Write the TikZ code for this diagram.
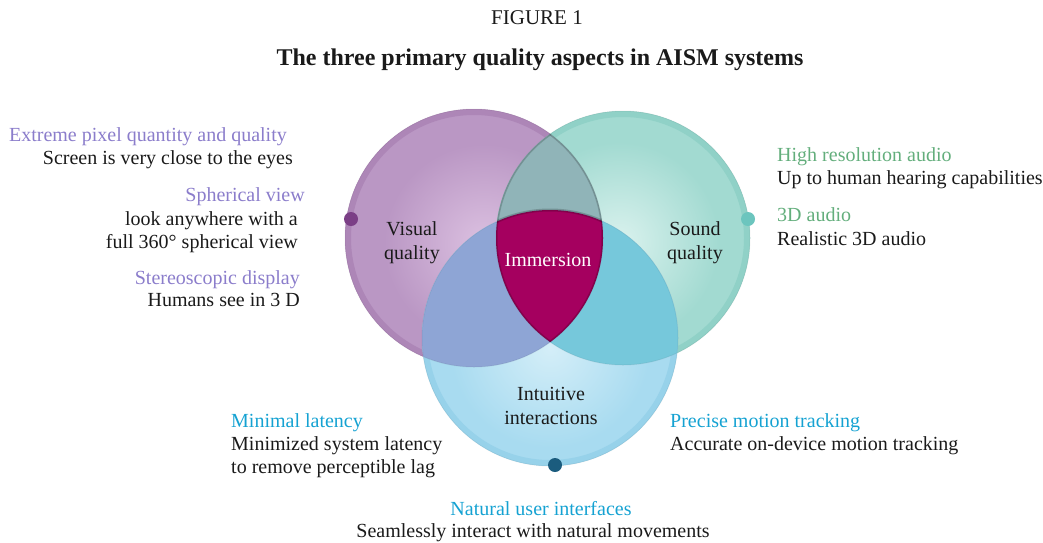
\documentclass[tikz,border=0pt]{standalone}
\usepackage{fontspec}
\setmainfont{Liberation Serif}
\usetikzlibrary{positioning}

\definecolor{visbase}{HTML}{BA97C4}
\definecolor{visrim}{HTML}{AD86B7}
\definecolor{vislight}{HTML}{DCC1E1}
\definecolor{sndbase}{HTML}{A2DAD1}
\definecolor{sndrim}{HTML}{90D1C7}
\definecolor{sndlight}{HTML}{DAF2EE}
\definecolor{intbase}{HTML}{A8DBF0}
\definecolor{intrim}{HTML}{97D2EA}
\definecolor{intlight}{HTML}{D4EEF8}
\definecolor{lensvs}{HTML}{90B4B8}
\definecolor{lensvi}{HTML}{8EA5D5}
\definecolor{lenssi}{HTML}{76C8DB}
\definecolor{immcol}{HTML}{A5005F}
\definecolor{visknob}{HTML}{7B3F86}
\definecolor{sndknob}{HTML}{6CC5BE}
\definecolor{intknob}{HTML}{1B5C7E}
\definecolor{visualtxt}{HTML}{8B7DCB}
\definecolor{soundtxt}{HTML}{63AE7C}
\definecolor{intertxt}{HTML}{15A2D2}
\definecolor{bodytxt}{HTML}{1A1A1A}

\tikzset{
  body/.style={font=\fontsize{20}{24}\selectfont, text=bodytxt, inner sep=0pt,
    text height=13pt, text depth=4pt, yshift=-2pt},
  headvis/.style={body, text=visualtxt},
  headsnd/.style={body, text=soundtxt},
  headint/.style={body, text=intertxt},
  inlabel/.style={font=\fontsize{20}{24}\selectfont, text=bodytxt, inner sep=0pt, align=center, yshift=-2pt},
  knob/.style={circle, inner sep=0pt, minimum size=14pt}
}

\begin{document}
\begin{tikzpicture}[x=1pt, y=-1pt]
\useasboundingbox (0,0) rectangle (1043,542);

% title
\node[body, font=\fontsize{21}{24}\selectfont] (fig) at (537,18) {FIGURE 1};
\node[body, font=\fontsize{24}{28}\bfseries] (title) at (540,59) {The three primary quality aspects in AISM systems};

\coordinate (cv) at (474,238);
\coordinate (cs) at (623,238);
\coordinate (ci) at (550,338);

% circles
\fill[visbase] (cv) circle[radius=129pt];
\shade[inner color=vislight, outer color=visbase] ([shift={(10,6)}]cv) circle[radius=100pt];
\draw[visrim, line width=6pt] (cv) circle[radius=126pt];
\fill[sndbase] (cs) circle[radius=127pt];
\shade[inner color=sndlight, outer color=sndbase] ([shift={(-4,4)}]cs) circle[radius=100pt];
\draw[sndrim, line width=6pt] (cs) circle[radius=124pt];
\fill[intbase] (ci) circle[radius=128pt];
\shade[inner color=intlight, outer color=intbase] ([shift={(0,10)}]ci) circle[radius=100pt];
\draw[intrim, line width=6pt] (ci) circle[radius=125pt];

% overlaps
\begin{scope}
\clip (cv) circle[radius=129pt];
\fill[lensvs] (cs) circle[radius=127pt];
\fill[lensvi] (ci) circle[radius=128pt];
\end{scope}
\begin{scope}
\clip (cs) circle[radius=127pt];
\fill[lenssi] (ci) circle[radius=128pt];
\end{scope}

% centre region
\begin{scope}
\clip (cv) circle[radius=129pt];
\clip (cs) circle[radius=127pt];
\fill[immcol] (ci) circle[radius=128pt];
\draw[black, opacity=0.18, line width=3pt] (ci) circle[radius=128pt];
\draw[black, opacity=0.18, line width=3pt] (cv) circle[radius=129pt];
\draw[black, opacity=0.18, line width=3pt] (cs) circle[radius=127pt];
\end{scope}
\draw[black, opacity=0.05, line width=1pt] (cv) circle[radius=129pt] (cs) circle[radius=127pt] (ci) circle[radius=128pt];

% knobs
\node[knob, fill=visknob] (kvis) at (351,219) {};
\node[knob, fill=sndknob] (ksnd) at (748,219) {};
\node[knob, fill=intknob] (kint) at (555,465) {};

% circle labels
\node[inlabel] (vis) at (412,241) {Visual\\quality};
\node[inlabel] (snd) at (695,241) {Sound\\quality};
\node[inlabel, text=white] (imm) at (548,258) {Immersion};
\node[inlabel] (int) at (551,404) {Intuitive\\interactions};

% visual side
\node[headvis, anchor=east] (v1) at (287,135) {Extreme pixel quantity and quality};
\node[body, anchor=east] (v1b) at (293,158) {Screen is very close to the eyes};
\node[headvis, anchor=east] (v2) at (305,195) {Spherical view};
\node[body, anchor=east] (v2b) at (298,219) {look anywhere with a};
\node[body, anchor=east] (v2c) at (298,242) {full 360° spherical view};
\node[headvis, anchor=east] (v3) at (300,278) {Stereoscopic display};
\node[body, anchor=east] (v3b) at (300,300) {Humans see in 3 D};

% sound side
\node[headsnd, anchor=west] (s1) at (777,155) {High resolution audio};
\node[body, anchor=west] (s1b) at (777,178) {Up to human hearing capabilities};
\node[headsnd, anchor=west] (s2) at (777,215) {3D audio};
\node[body, anchor=west] (s2b) at (777,239) {Realistic 3D audio};

% interaction side
\node[headint, anchor=west] (i1) at (231,421) {Minimal latency};
\node[body, anchor=west] (i1b) at (231,444) {Minimized system latency};
\node[body, anchor=west] (i1c) at (231,467) {to remove perceptible lag};
\node[headint, anchor=west] (i2) at (670,421) {Precise motion tracking};
\node[body, anchor=west] (i2b) at (670,444) {Accurate on-device motion tracking};
\node[headint] (i3) at (541,509) {Natural user interfaces};
\node[body] (i3b) at (533,531) {Seamlessly interact with natural movements};
\end{tikzpicture}
\end{document}
